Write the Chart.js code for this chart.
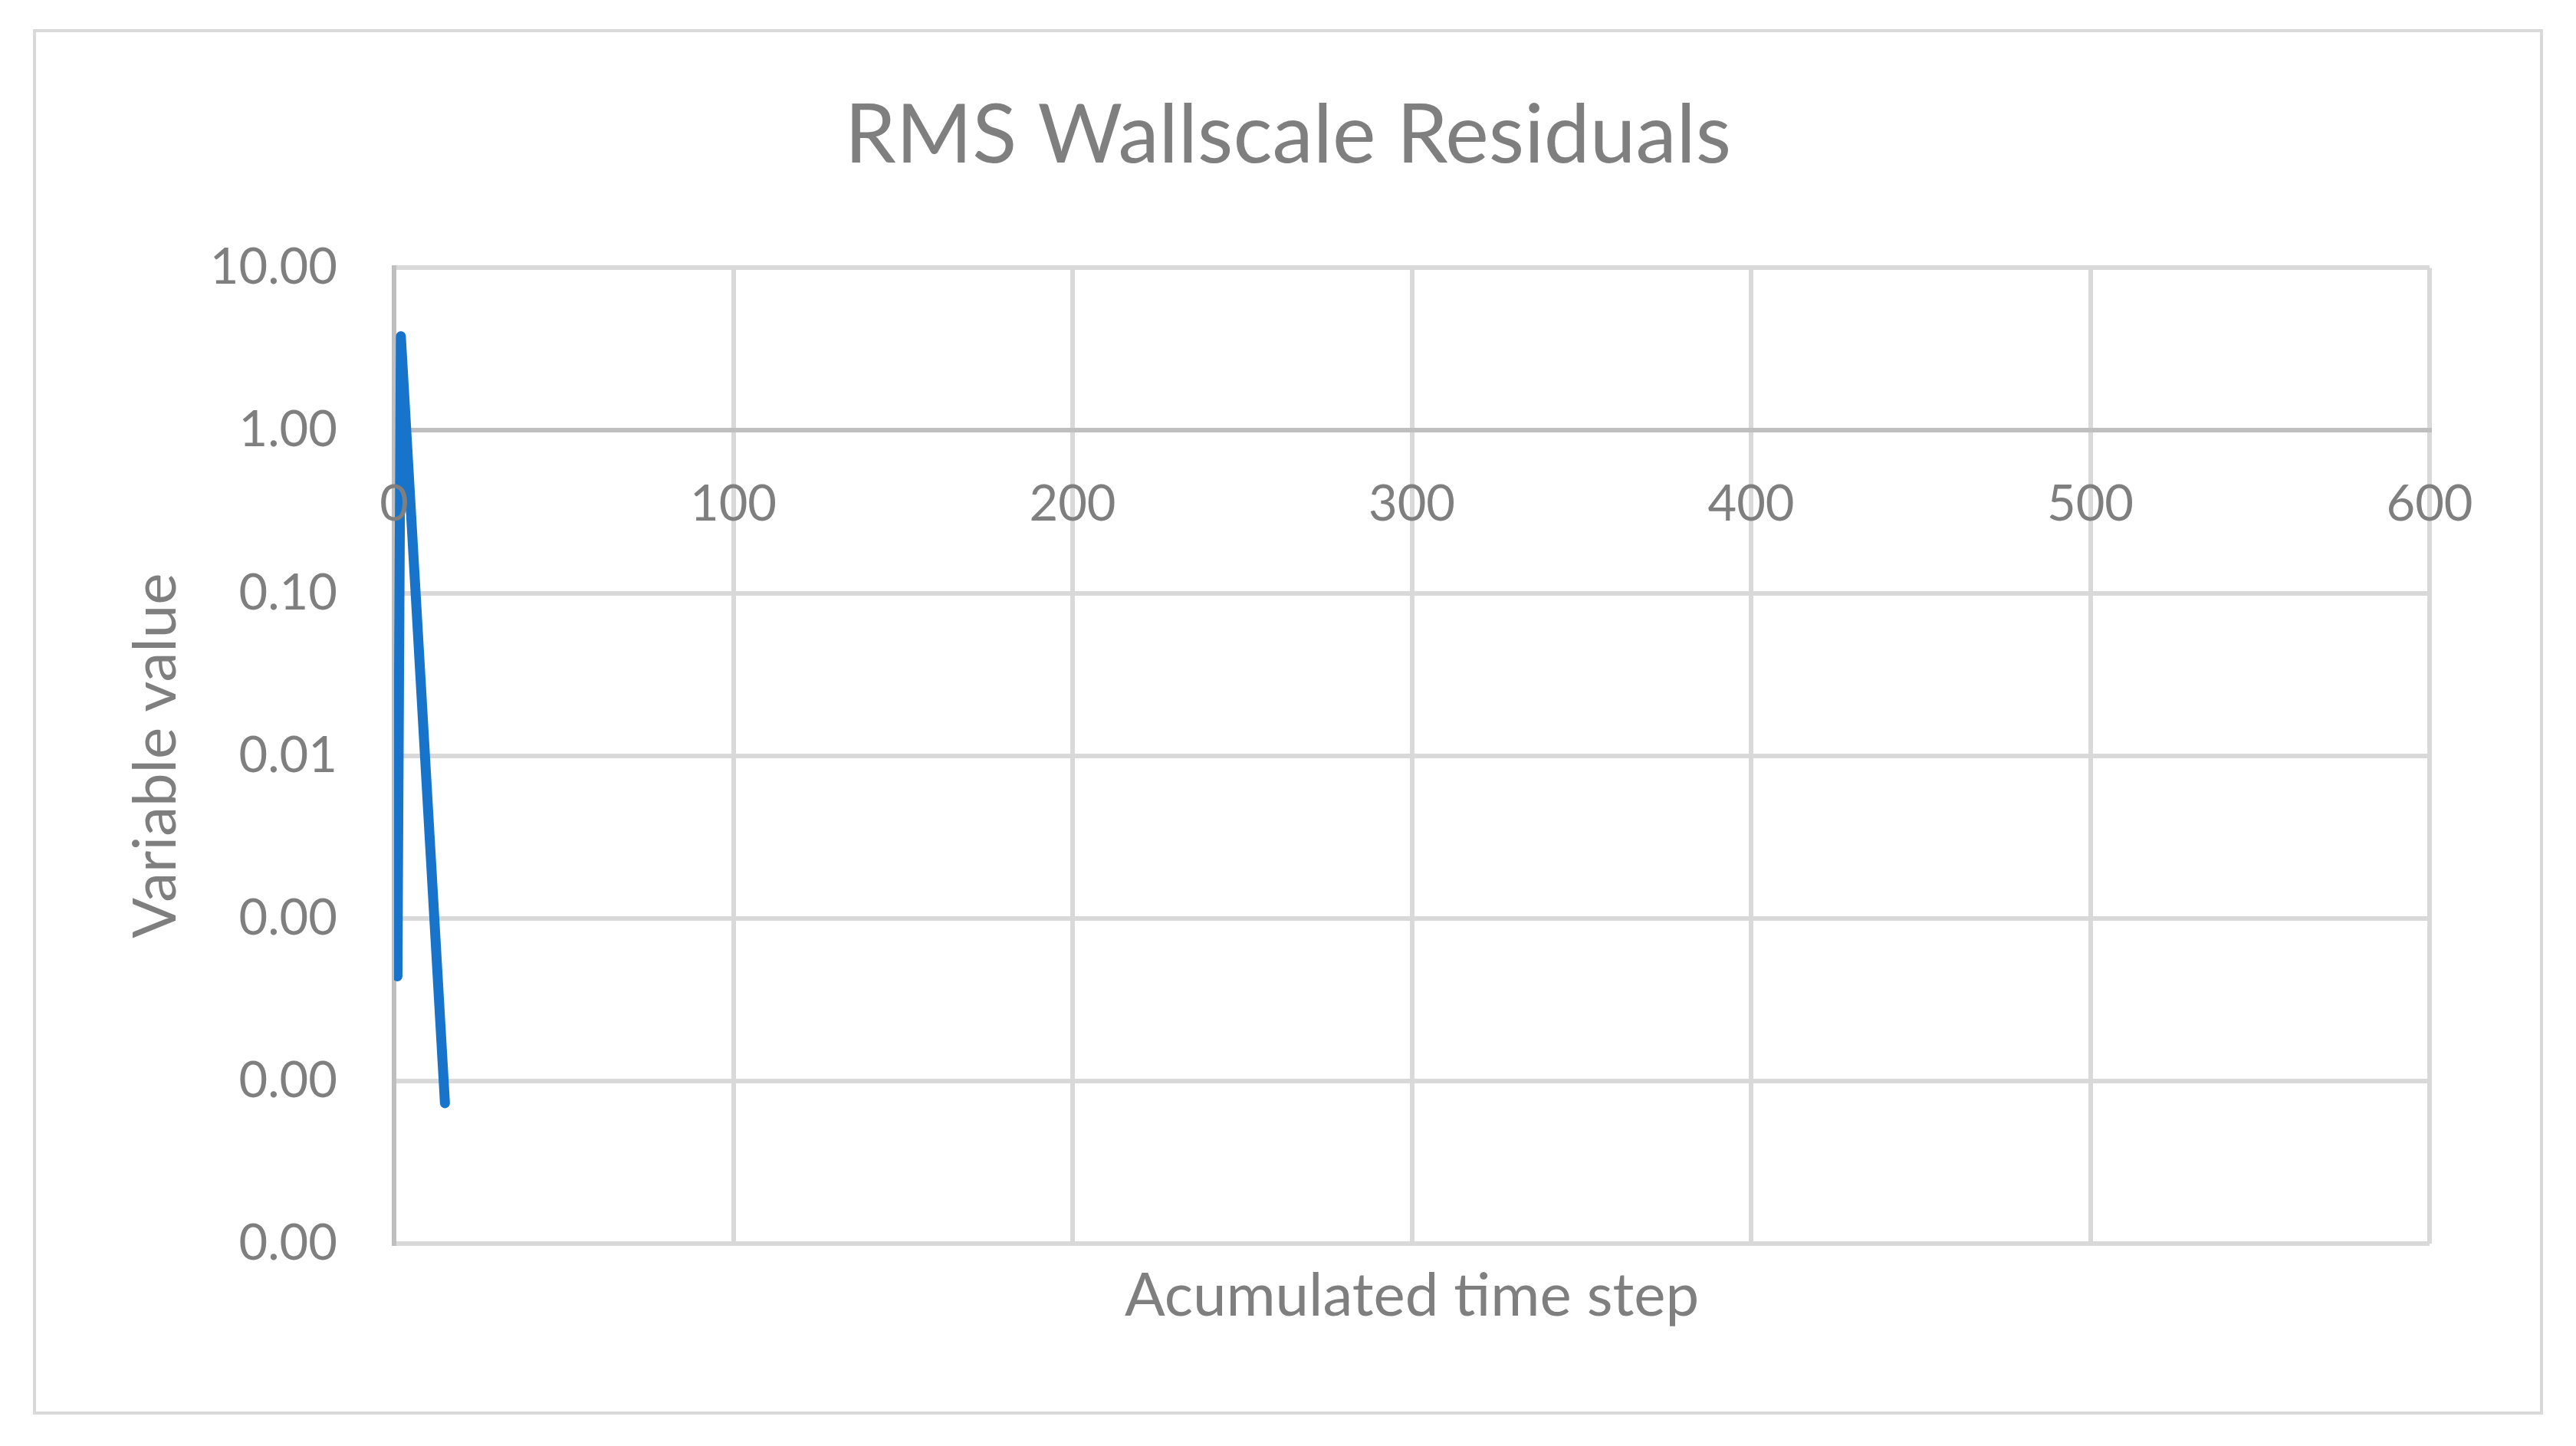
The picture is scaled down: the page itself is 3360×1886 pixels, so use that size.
<!DOCTYPE html>
<html>
<head>
<meta charset="utf-8">
<script src="https://cdn.jsdelivr.net/npm/chart.js@4.4.0/dist/chart.umd.min.js"></script>
<style>
  html, body { margin: 0; padding: 0; background: #fff; }
  #frame { position: absolute; left: 43px; top: 38px; width: 3266px; height: 1799px; border: 4px solid #d9d9d9; }
  canvas { position: absolute; left: 0; top: 0; }
</style>
</head>
<body>
<div id="frame"></div>
<canvas id="rmsChart" width="3360" height="1886"></canvas>
<script>
// dữ liệu
const timeSteps = [1, 2, 15];
const rmsWallscale = [0.00044, 3.8, 0.000073];
const xTickValues = [0, 100, 200, 300, 400, 500, 600];
const yTickValues = [0.00001, 0.0001, 0.001, 0.01, 0.1, 1, 10];

const gridColor = "#d9d9d9";
const axisColor = "#bfbfbf";
const textColor = "#7f7f7f";

Chart.defaults.font.family = "Lato";
Chart.defaults.color = textColor;

const ctx = document.getElementById("rmsChart").getContext("2d");
const rmsChart = new Chart(ctx, {
  type: "line",
  data: {
    datasets: [
      {
        label: "RMS Wallscale",
        data: timeSteps.map((x, i) => ({ x: x, y: rmsWallscale[i] })),
        borderColor: "#1873ca",
        borderWidth: 13,
        borderCapStyle: "round",
        borderJoinStyle: "round",
        pointRadius: 0,
        fill: false,
        tension: 0,
      },
    ],
  },
  options: {
    responsive: false,
    animation: false,
    layout: { padding: 0 },
    plugins: {
      legend: { display: false },
      tooltip: { enabled: false },
      title: {
        display: true,
        text: "RMS Wallscale Residuals",
        color: textColor,
        font: { size: 107, weight: "normal" },
        padding: { top: 113, bottom: 108 },
      },
    },
    scales: {
      x: {
        type: "linear",
        position: { y: 1 }, // trục ngang cắt tại 1.00 như Excel
        min: 0,
        max: 600,
        afterBuildTicks: (s) => { s.ticks = xTickValues.map((v) => ({ value: v })); },
        afterFit: (s) => { s.height = 0; },
        grid: { color: gridColor, lineWidth: 6, drawTicks: false },
        border: { color: axisColor, width: 6 },
        ticks: { font: { size: 65 }, padding: 58, maxRotation: 0, z: 1 },
      },
      x2: {
        type: "linear",
        position: "bottom",
        min: 0,
        max: 600,
        grid: { display: false },
        border: { display: false },
        ticks: { display: false },
        afterFit: (s) => { s.height = 264; },
        title: {
          display: true,
          text: "Acumulated time step",
          color: textColor,
          font: { size: 78 },
          padding: { top: 0, bottom: 148 },
        },
      },
      y: {
        type: "logarithmic",
        min: 0.00001,
        max: 10,
        afterBuildTicks: (s) => { s.ticks = yTickValues.map((v) => ({ value: v })); },
        afterFit: (s) => { s.width = 514; },
        grid: { color: gridColor, lineWidth: 6, drawTicks: false },
        border: { color: axisColor, width: 6 },
        ticks: {
          font: { size: 65 },
          padding: 74,
          callback: (v) => Number(v).toFixed(2),
        },
        title: {
          display: true,
          text: "Variable value",
          color: textColor,
          font: { size: 78 },
          padding: { top: 157, bottom: 0 },
        },
      },
      // trục phụ bên phải chỉ để giữ khoảng trống, không vẽ gì
      yRight: {
        type: "linear",
        position: "right",
        display: true,
        grid: { display: false },
        border: { display: false },
        ticks: { display: false },
        afterFit: (s) => { s.width = 191; },
      },
    },
  },
});
</script>
</body>
</html>
